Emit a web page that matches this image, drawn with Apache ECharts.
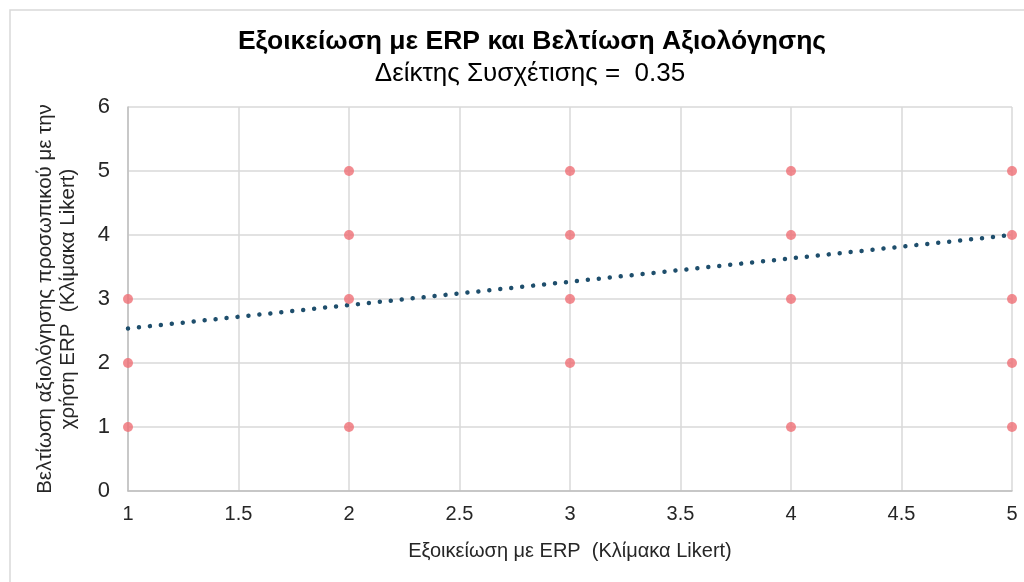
<!DOCTYPE html>
<html>
<head>
<meta charset="utf-8">
<script src="https://cdn.jsdelivr.net/npm/echarts@6/dist/echarts.min.js"></script>
<style>html,body{margin:0;padding:0;background:#fff}#c{width:1024px;height:582px}</style>
</head>
<body>
<div id="c"></div>
<script>
var titleText = 'Εξοικείωση με ERP και Βελτίωση Αξιολόγησης';
var subtitleText = 'Δείκτης Συσχέτισης =  0.35';
var xAxisName = 'Εξοικείωση με ERP  (Κλίμακα Likert)';
var yAxisName = 'Βελτίωση αξιολόγησης προσωπικού με την\nχρήση ERP  (Κλίμακα Likert)';
var pointX = [1, 1, 1, 2, 2, 2, 2, 3, 3, 3, 3, 4, 4, 4, 4, 5, 5, 5, 5, 5];
var pointY = [1, 2, 3, 1, 3, 4, 5, 2, 3, 4, 5, 1, 3, 4, 5, 1, 2, 3, 4, 5];
var trendX = [1, 5];
var trendY = [2.54, 4.0];

var points = pointX.map(function (x, i) { return [x, pointY[i]]; });
var trend = trendX.map(function (x, i) { return [x, trendY[i]]; });

var chart = echarts.init(document.getElementById('c'), null, {renderer: 'canvas'});
var font = '"Liberation Sans", Arial, sans-serif';
chart.setOption({
  animation: false,
  backgroundColor: '#fff',
  textStyle: {fontFamily: font},
  graphic: [{
    type: 'rect', z: -10,
    shape: {x: 10, y: 10, width: 1040, height: 620},
    style: {fill: 'none', stroke: '#d9d9d9', lineWidth: 1.5}
  }],
  title: [{
    text: titleText, left: 527, top: 23, textAlign: 'center',
    textStyle: {fontFamily: font, fontSize: 26.5, fontWeight: 'bold', color: '#000'}
  }, {
    text: subtitleText, left: 525, top: 56, textAlign: 'center',
    textStyle: {fontFamily: font, fontSize: 26, fontWeight: 'normal', color: '#000'}
  }],
  grid: {left: 128, right: 12, top: 107, bottom: 91, containLabel: false},
  xAxis: {
    type: 'value', min: 1, max: 5, interval: 0.5,
    name: xAxisName, nameLocation: 'middle', nameGap: 50,
    nameTextStyle: {fontFamily: font, fontSize: 20, color: '#262626'},
    axisLine: {show: true, lineStyle: {color: '#bfbfbf', width: 1.5}},
    axisTick: {show: false},
    axisLabel: {fontFamily: font, fontSize: 20, color: '#262626', margin: 13},
    splitLine: {show: true, lineStyle: {color: '#d9d9d9', width: 1.5}}
  },
  yAxis: {
    type: 'value', min: 0, max: 6, interval: 1,
    name: yAxisName, nameLocation: 'middle', nameGap: 48, nameRotate: 90,
    nameTextStyle: {fontFamily: font, fontSize: 20.5, color: '#262626', lineHeight: 23},
    axisLine: {show: true, lineStyle: {color: '#bfbfbf', width: 1.5}},
    axisTick: {show: false},
    axisLabel: {fontFamily: font, fontSize: 22, color: '#262626', margin: 18},
    splitLine: {show: true, lineStyle: {color: '#d9d9d9', width: 1.5}}
  },
  series: [{
    type: 'line', data: trend, symbol: 'none', z: 2,
    lineStyle: {color: '#1e4e6c', width: 4.5, type: [0.01, 11], cap: 'round'}
  }, {
    type: 'scatter', data: points, symbol: 'circle', symbolSize: 10, z: 3,
    itemStyle: {color: '#ef6f76'}
  }]
});
</script>
</body>
</html>
